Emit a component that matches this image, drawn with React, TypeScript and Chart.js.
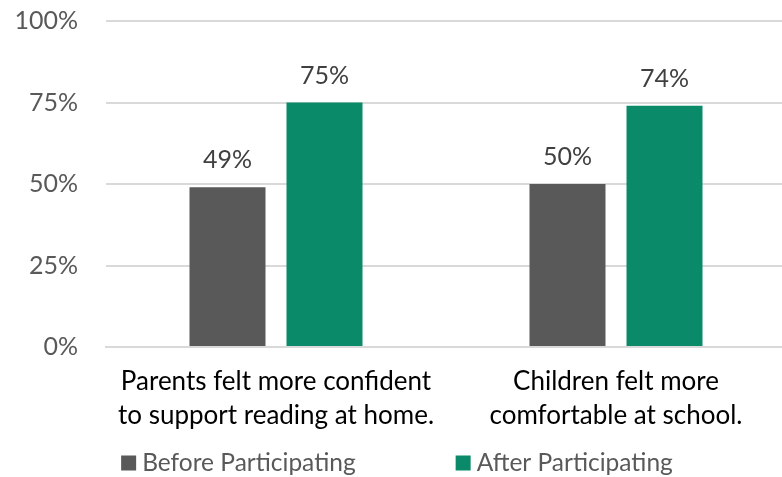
import React, { useEffect, useRef } from "react";
import { Chart, registerables } from "chart.js";

Chart.register(...registerables);

const categories: string[][] = [
  ["Parents felt more confident", "to support reading at home."],
  ["Children felt more", "comfortable at school."],
];
const seriesNames = ["Before Participating", "After Participating"];
const beforeValues = [49, 50];
const afterValues = [75, 74];
const yTicks = [0, 25, 50, 75, 100];

const FONT = "Lato, 'Open Sans', sans-serif";

const dataLabelPlugin = {
  id: "dataLabels",
  afterDatasetsDraw(chart: any) {
    const ctx = chart.ctx;
    ctx.save();
    ctx.font = `25px ${FONT}`;
    ctx.fillStyle = "#404040";
    ctx.textAlign = "center";
    ctx.textBaseline = "middle";
    chart.data.datasets.forEach((ds: any, i: number) => {
      const meta = chart.getDatasetMeta(i);
      meta.data.forEach((bar: any, j: number) => {
        ctx.fillText(`${ds.data[j]}%`, bar.x, bar.y - 27);
      });
    });
    ctx.restore();
  },
};

const legendPlugin = {
  id: "customLegend",
  afterDraw(chart: any) {
    const ctx = chart.ctx;
    ctx.save();
    ctx.font = `24.5px ${FONT}`;
    ctx.textBaseline = "middle";
    ctx.textAlign = "left";
    const box = 15;
    const boxGap = 6;
    const itemGap = 100;
    const items = chart.data.datasets.map((ds: any) => ({
      label: ds.label,
      color: ds.backgroundColor,
      w: box + boxGap + ctx.measureText(ds.label).width,
    }));
    const total = items.reduce((s: number, it: any) => s + it.w, 0) + itemGap * (items.length - 1);
    let x = 397 - total / 2;
    const y = 463;
    items.forEach((it: any) => {
      ctx.fillStyle = it.color;
      ctx.fillRect(x, y - box / 2, box, box);
      ctx.fillStyle = "#595959";
      ctx.fillText(it.label, x + box + boxGap, y);
      x += it.w + itemGap;
    });
    ctx.restore();
  },
};

export default function App() {
  const ref = useRef<HTMLCanvasElement | null>(null);
  useEffect(() => {
    document.body.style.margin = "0";
    const chart = new Chart(ref.current as HTMLCanvasElement, {
      type: "bar",
      data: {
        labels: categories,
        datasets: [
          { label: seriesNames[0], data: beforeValues, backgroundColor: "#595959" },
          { label: seriesNames[1], data: afterValues, backgroundColor: "#0b8a6a" },
        ],
      },
      options: {
        animation: false,
        responsive: false,
        layout: { padding: { top: 21, left: 0, right: 0, bottom: 0 } },
        datasets: { bar: { categoryPercentage: 0.5706, barPercentage: 0.7835 } },
        plugins: { legend: { display: false }, tooltip: { enabled: false } },
        scales: {
          x: {
            grid: { display: false, drawTicks: false },
            border: { display: true, color: "#d9d9d9", width: 2 },
            ticks: {
              color: "#000000",
              font: { family: FONT, size: 26, lineHeight: 1.3 },
              padding: 18,
              maxRotation: 0,
            },
            afterFit(scale: any) {
              scale.height = 130;
              scale.paddingLeft = 0;
              scale.paddingRight = 0;
            },
          },
          y: {
            min: 0,
            max: 100,
            afterBuildTicks(scale: any) {
              scale.ticks = yTicks.map((v) => ({ value: v }));
            },
            grid: { color: "#d9d9d9", lineWidth: 2, drawTicks: false },
            border: { display: false },
            ticks: {
              color: "#595959",
              font: { family: FONT, size: 25 },
              padding: 28,
              callback: (v: any) => `${v}%`,
            },
            afterFit(scale: any) {
              scale.width = 106;
              scale.paddingTop = 0;
              scale.paddingBottom = 0;
            },
          },
        },
      },
      plugins: [dataLabelPlugin, legendPlugin],
    });
    return () => chart.destroy();
  }, []);
  return (
    <div style={{ width: 782, height: 477, overflow: "hidden", position: "relative", background: "#fff" }}>
      <canvas ref={ref} width={786} height={477} style={{ position: "absolute", left: 0, top: 0 }} />
    </div>
  );
}
